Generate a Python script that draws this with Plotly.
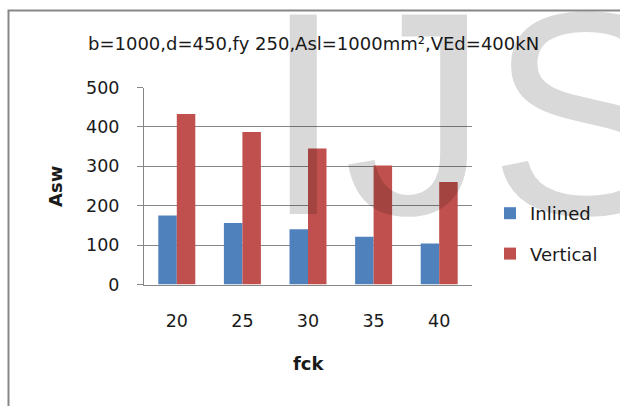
import plotly.graph_objects as go

# Shear reinforcement area for varying concrete strength
fck = ["20", "25", "30", "35", "40"]
asw_inclined = [175, 156, 140, 121, 104]
asw_vertical = [433, 387, 345, 302, 260]
y_ticks = [0, 100, 200, 300, 400, 500]

W, H = 620, 406


def px(x):
    return x / W


def py(y):
    return 1 - y / H


GRID = "#868686"
FONT = "DejaVu Sans"

fig = go.Figure()
fig.add_trace(go.Bar(x=fck, y=asw_inclined, name="Inlined", legendgroup="a",
                     marker=dict(color="#4F81BD", line=dict(width=0))))
fig.add_trace(go.Bar(x=fck, y=asw_vertical, name="Vertical", legendgroup="b",
                     marker=dict(color="#C0504D", line=dict(width=0))))

fig.update_layout(
    width=W, height=H,
    margin=dict(l=0, r=0, t=0, b=0, pad=0, autoexpand=False),
    paper_bgcolor="white", plot_bgcolor="white",
    barmode="group", bargap=0.436, bargroupgap=0,
    font=dict(family=FONT, size=17, color="#1a1a1a"),
    showlegend=True,
    legend=dict(x=px(490), xanchor="left", y=py(195), yanchor="top",
                font=dict(family=FONT, size=18, color="#1a1a1a"),
                tracegroupgap=14, bgcolor="rgba(0,0,0,0)"),
    xaxis=dict(domain=[px(144), px(472)], type="category", automargin=False,
               showline=True, linecolor=GRID, linewidth=1,
               ticks="", showgrid=False, ticklabelstandoff=20,
               tickfont=dict(family=FONT, size=17.5, color="#1a1a1a")),
    yaxis=dict(domain=[py(284.5), py(87.5)], range=[0, 500], automargin=False,
               tickvals=y_ticks, showgrid=True, gridcolor=GRID, gridwidth=1,
               showline=True, linecolor=GRID, linewidth=1,
               ticks="outside", ticklen=6, tickcolor=GRID,
               ticklabelstandoff=14, zeroline=False,
               tickfont=dict(family=FONT, size=17.5, color="#1a1a1a")),
)

# Chart frame (right and bottom edges run past the page)
fig.add_shape(type="rect", xref="paper", yref="paper",
              x0=px(8.5), x1=1.2, y0=-0.2, y1=py(10.5),
              line=dict(color="#878787", width=2), fillcolor="rgba(0,0,0,0)")

fig.add_annotation(text="b=1000,d=450,fy 250,Asl=1000mm²,VEd=400kN",
                   xref="paper", yref="paper", x=px(313.5), y=py(43),
                   xanchor="center", yanchor="middle", showarrow=False,
                   font=dict(family=FONT, size=18, color="#1a1a1a"))
fig.add_annotation(text="<b>Asw</b>", xref="paper", yref="paper",
                   x=px(55), y=py(187), textangle=-90, showarrow=False,
                   xanchor="center", yanchor="middle",
                   font=dict(family=FONT, size=18, color="#1a1a1a"))
fig.add_annotation(text="<b>fck</b>", xref="paper", yref="paper",
                   x=px(309), y=py(363), showarrow=False,
                   xanchor="center", yanchor="middle",
                   font=dict(family=FONT, size=18, color="#1a1a1a"))

# Watermark
fig.add_annotation(text="IJS", xref="paper", yref="paper",
                   x=px(261), y=py(-51), xanchor="left", yanchor="top",
                   showarrow=False,
                   font=dict(family="Liberation Sans", size=290,
                             color="rgba(0,0,0,0.15)"))

fig.write_html("out.html")
